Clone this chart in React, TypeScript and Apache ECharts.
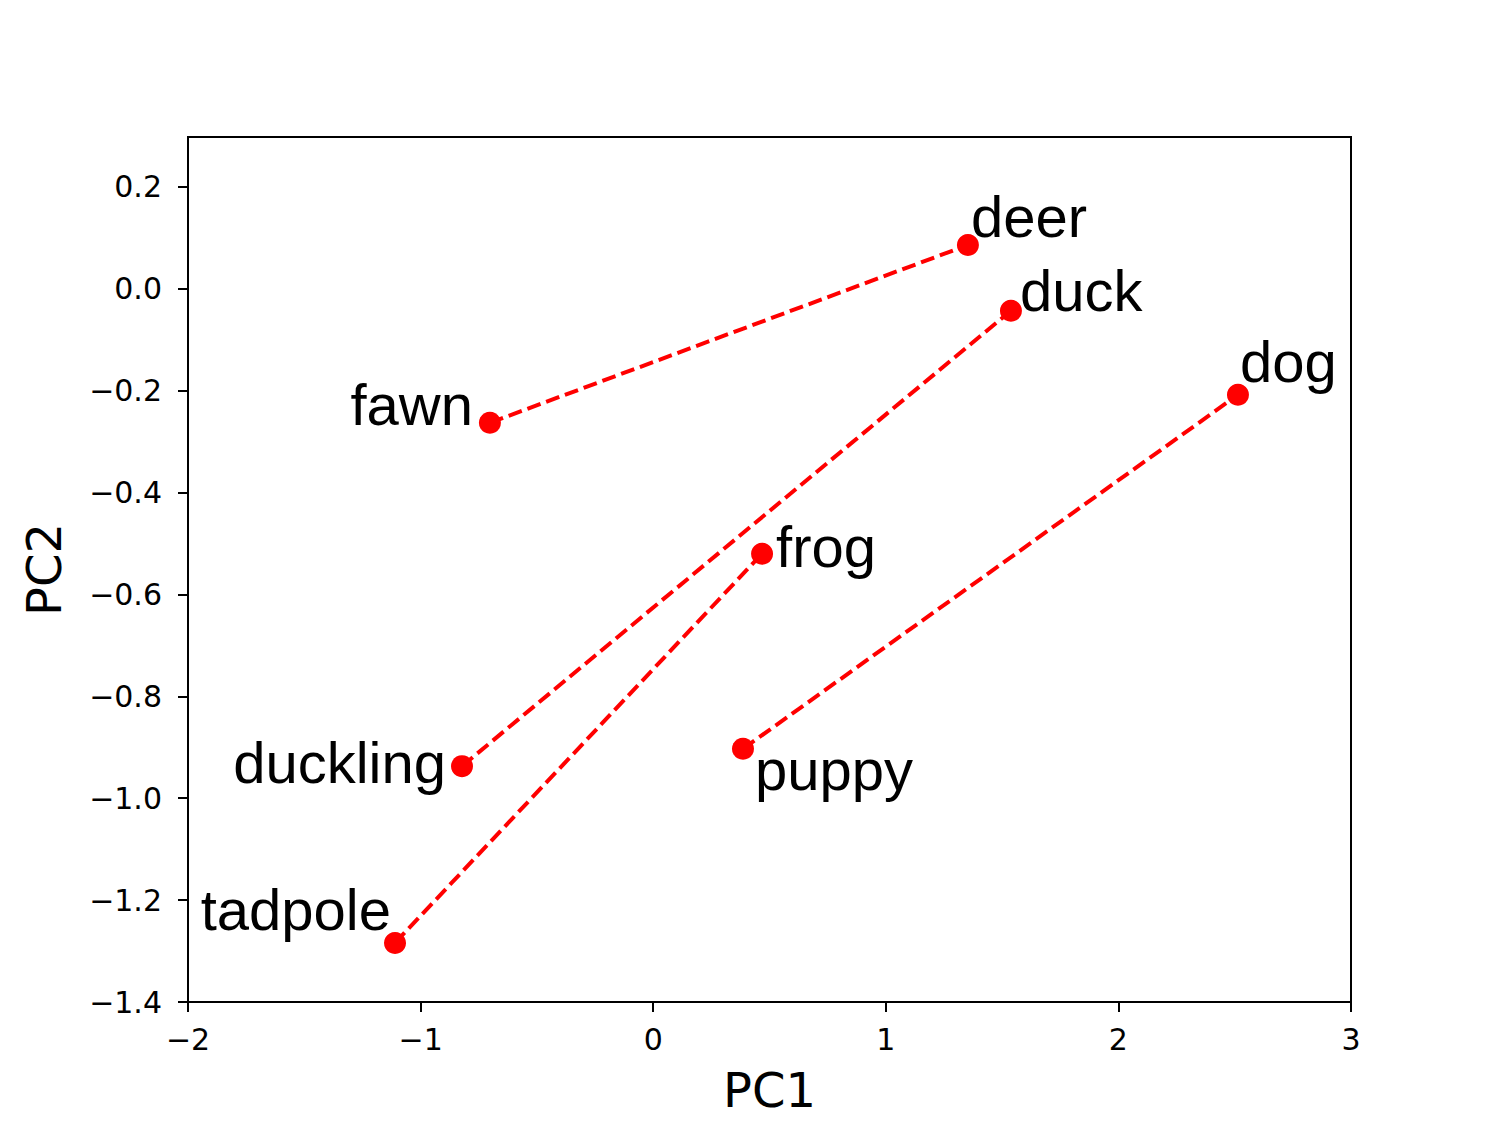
import React, { useEffect, useRef } from "react";
import * as echarts from "echarts";

// Data
const words = ["deer", "duck", "dog", "fawn", "frog", "duckling", "puppy", "tadpole"];
const pc1 = [1.353, 1.538, 2.514, -0.702, 0.468, -0.822, 0.386, -1.11];
const pc2 = [0.086, -0.043, -0.208, -0.263, -0.52, -0.937, -0.903, -1.284];
// pairs (young -> adult)
const pairs: [string, string][] = [
  ["fawn", "deer"],
  ["duckling", "duck"],
  ["tadpole", "frog"],
  ["puppy", "dog"],
];
const xTicks = [-2, -1, 0, 1, 2, 3];
const yTicks = [-1.4, -1.2, -1.0, -0.8, -0.6, -0.4, -0.2, 0.0, 0.2];

// Label placement (style only)
const labelStyle: Record<string, { align: "left" | "right"; offset: [number, number] }> = {
  deer: { align: "left", offset: [3, -28] },
  duck: { align: "left", offset: [9, -20] },
  dog: { align: "left", offset: [2, -33] },
  fawn: { align: "right", offset: [-17, -18] },
  frog: { align: "left", offset: [14, -7] },
  duckling: { align: "right", offset: [-16, -4] },
  puppy: { align: "left", offset: [12, 21] },
  tadpole: { align: "right", offset: [-4, -33] },
};

const fmtMinus = (s: string) => s.replace("-", "\u2212");

export default function App() {
  const ref = useRef<HTMLDivElement>(null);
  useEffect(() => {
    if (!ref.current) return;
    const chart = echarts.init(ref.current, null, { renderer: "svg" });
    const idx = (w: string) => words.indexOf(w);
    const lineSeries = pairs.map(([a, b]) => ({
      type: "line",
      data: [
        [pc1[idx(a)], pc2[idx(a)]],
        [pc1[idx(b)], pc2[idx(b)]],
      ],
      symbol: "none",
      lineStyle: { color: "#ff0000", width: 4, type: [14, 6] },
      silent: true,
      z: 2,
    }));
    const scatter = {
      type: "scatter",
      symbol: "circle",
      symbolSize: 22,
      itemStyle: { color: "#ff0000", opacity: 1 },
      z: 3,
      data: words.map((w, i) => ({
        name: w,
        value: [pc1[i], pc2[i]],
        label: {
          show: true,
          position: "inside",
          formatter: w,
          align: labelStyle[w].align,
          verticalAlign: "middle",
          offset: labelStyle[w].offset,
          color: "#000",
          opacity: 1,
          fontSize: 58,
          fontFamily: "Liberation Sans, Arial, sans-serif",
        },
      })),
    };
    const axisCommon = {
      splitLine: { show: false },
      axisLine: { show: true, onZero: false, lineStyle: { color: "#000", width: 2 } },
    };
    chart.setOption({
      animation: false,
      backgroundColor: "#fff",
      grid: {
        left: 188,
        top: 137,
        width: 1163,
        height: 865,
        show: true,
        borderColor: "#000",
        borderWidth: 2,
        backgroundColor: "transparent",
      },
      xAxis: {
        type: "value",
        min: xTicks[0],
        max: xTicks[xTicks.length - 1],
        interval: 1,
        name: "PC1",
        nameLocation: "middle",
        nameGap: 64,
        nameTextStyle: { fontFamily: "DejaVu Sans", fontSize: 48, color: "#000" },
        ...axisCommon,
        axisTick: {
          show: true,
          inside: false,
          length: 10,
          customValues: xTicks,
          lineStyle: { color: "#000", width: 2 },
        },
        axisLabel: {
          fontFamily: "DejaVu Sans",
          fontSize: 30,
          color: "#000",
          margin: 22,
          customValues: xTicks,
          formatter: (v: number) => fmtMinus(String(Math.round(v))),
        },
      },
      yAxis: {
        type: "value",
        min: yTicks[0],
        max: 0.298,
        interval: 0.2,
        name: "PC2",
        nameLocation: "middle",
        nameGap: 120,
        nameTextStyle: { fontFamily: "DejaVu Sans", fontSize: 48, color: "#000" },
        ...axisCommon,
        axisTick: {
          show: true,
          inside: false,
          length: 10,
          customValues: yTicks,
          lineStyle: { color: "#000", width: 2 },
        },
        axisLabel: {
          fontFamily: "DejaVu Sans",
          fontSize: 30,
          color: "#000",
          margin: 26,
          customValues: yTicks,
          formatter: (v: number) => {
            if (Math.abs(v) < 1e-9) return "0.0";
            return fmtMinus(v.toFixed(1));
          },
        },
      },
      series: [...lineSeries, scatter],
    });
    return () => chart.dispose();
  }, []);
  return (
    <div
      ref={ref}
      style={{ position: "absolute", left: 0, top: 0, width: 1500, height: 1126 }}
    />
  );
}
